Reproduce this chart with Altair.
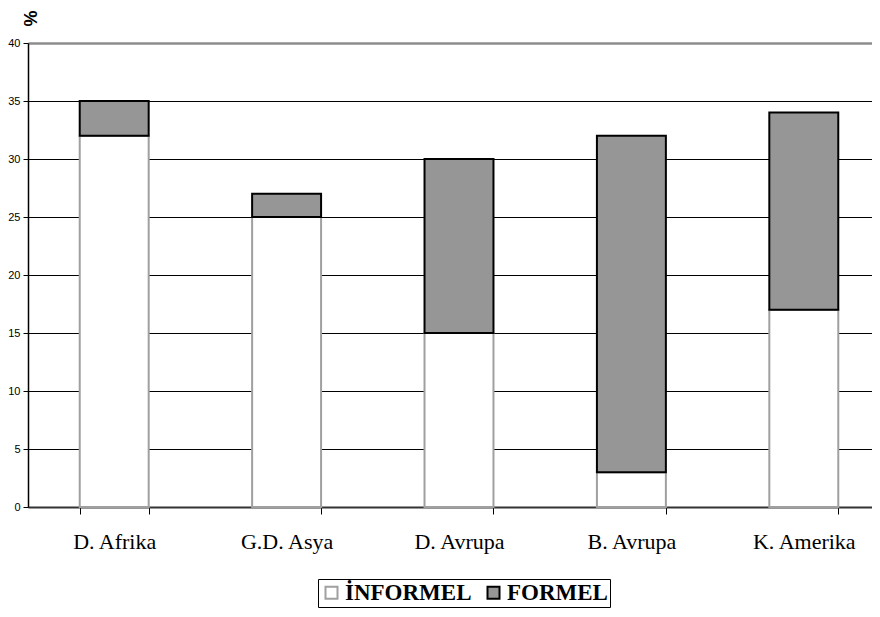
import altair as alt
import pandas as pd

categories = ["D. Afrika", "G.D. Asya", "D. Avrupa", "B. Avrupa", "K. Amerika"]
informel = [32, 25, 15, 3, 17]
formel = [3, 2, 15, 29, 17]
series = ["İNFORMEL", "FORMEL"]
y_ticks = [0, 5, 10, 15, 20, 25, 30, 35, 40]

rows = []
for c, a, b in zip(categories, informel, formel):
    rows.append({"cat": c, "series": series[0], "value": a, "ord": 0})
    rows.append({"cat": c, "series": series[1], "value": b, "ord": 1})
df = pd.DataFrame(rows)

SERIF = "'Liberation Serif', 'Times New Roman', Times, serif"

legend = alt.Legend(
    title=None,
    orient="none",
    legendX=290,
    legendY=536,
    direction="horizontal",
    symbolType="square",
    symbolSize=144,
    symbolStrokeWidth=2,
    labelFont=SERIF,
    labelFontSize=23,
    labelFontWeight="bold",
    labelColor="black",
    labelOffset=2,
    columnPadding=10,
    strokeColor="black",
    padding=2,
)

chart = alt.Chart(df).mark_bar(strokeWidth=2).encode(
    x=alt.X(
        "cat:N",
        sort=categories,
        scale=alt.Scale(paddingInner=0.6, paddingOuter=0.3),
        axis=alt.Axis(
            title=None,
            labelAngle=0,
            labelFont=SERIF,
            labelFontSize=22,
            labelColor="black",
            labelBaseline="top",
            labelPadding=17,
            tickBand="extent",
            tickColor="black",
            tickSize=7,
            tickWidth=1,
            domainColor="#333333",
            domainWidth=2,
            grid=False,
        ),
    ),
    y=alt.Y(
        "value:Q",
        stack="zero",
        scale=alt.Scale(domain=[0, 40]),
        axis=alt.Axis(
            values=y_ticks,
            title="%",
            titleFont="Liberation Sans",
            titleFontSize=18,
            titleFontWeight="bold",
            titleColor="black",
            titleAngle=270,
            titleAlign="center",
            titleBaseline="middle",
            titleX=3,
            titleY=-25,
            labelFont="Liberation Sans",
            labelFontSize=11,
            labelColor="black",
            labelPadding=3,
            tickColor="black",
            tickSize=5,
            domainColor="black",
            domainWidth=1.5,
            grid=True,
            gridColor={"condition": {"test": "datum.value === 40", "value": "#8c8c8c"}, "value": "black"},
            gridWidth={"condition": {"test": "datum.value === 40", "value": 2.5}, "value": 1},
        ),
    ),
    fill=alt.Fill("series:N", sort=series,
                  scale=alt.Scale(domain=series, range=["white", "#969696"]), legend=legend),
    stroke=alt.Stroke("series:N", sort=series,
                      scale=alt.Scale(domain=series, range=["#a0a0a0", "black"]), legend=legend),
    order=alt.Order("ord:Q"),
).properties(
    width=862,
    height=464,
    autosize="none",
    padding={"left": 20, "top": 35, "right": -18, "bottom": 101},
    background="white",
).configure_view(
    strokeWidth=0
)

chart.save("out.html", embed_options={"renderer": "svg", "actions": False})
